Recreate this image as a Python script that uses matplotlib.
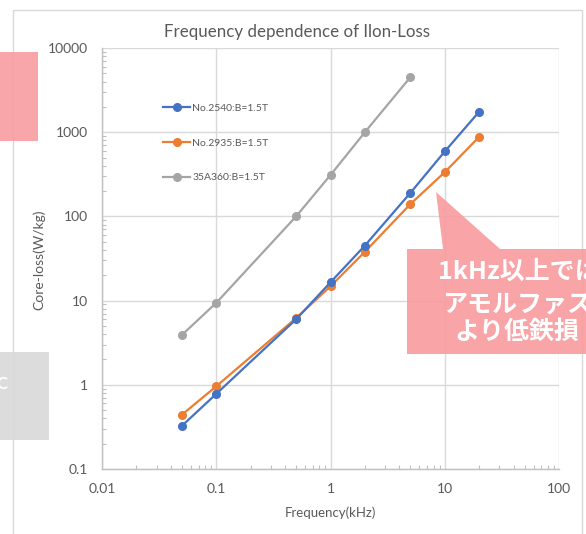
import matplotlib
matplotlib.use('Agg')
import matplotlib.pyplot as plt
import matplotlib.patches as patches
from matplotlib.ticker import LogLocator, FuncFormatter, NullFormatter

plt.rcParams['font.family'] = ['Lato', 'Noto Sans CJK JP', 'DejaVu Sans']

# data (kHz, W/kg)
freq = [0.05, 0.1, 0.5, 1, 2, 5, 10, 20]
loss_2540 = [0.325, 0.78, 6.0, 16.5, 45, 190, 590, 1750]
loss_2935 = [0.44, 0.96, 6.2, 14.8, 38, 140, 335, 880]
freq_35a = [0.05, 0.1, 0.5, 1, 2, 5]
loss_35a = [3.9, 9.4, 100, 310, 1000, 4500]

series_labels = ['No.2540:B=1.5T', 'No.2935:B=1.5T', '35A360:B=1.5T']
series_colors = ['#4472C4', '#ED7D31', '#A5A5A5']

W, H = 586, 534
text_gray = '#595959'
grid_gray = '#D9D9D9'


def px(x, y):
    # pixel coords (top-left origin) -> figure fraction
    return x / W, 1 - y / H


fig = plt.figure(figsize=(W / 100, H / 100), dpi=100)

# chart frame behind everything
fig.patches.append(patches.Rectangle(px(13, 545), (582 - 13) / W, (545 - 10) / H,
                                     transform=fig.transFigure, fill=False,
                                     edgecolor=grid_gray, linewidth=1.0, zorder=0))

l, b = px(102, 469)
r, t = px(559, 48)
ax = fig.add_axes([l, b, r - l, t - b])

ax.plot(freq, loss_2540, color=series_colors[0], marker='o', markersize=5.5,
        linewidth=1.6, label=series_labels[0], zorder=4)
ax.plot(freq, loss_2935, color=series_colors[1], marker='o', markersize=5.5,
        linewidth=1.6, label=series_labels[1], zorder=3)
ax.plot(freq_35a, loss_35a, color=series_colors[2], marker='o', markersize=5.5,
        linewidth=1.6, label=series_labels[2], zorder=3)

ax.set_xscale('log')
ax.set_yscale('log')
ax.set_xlim(0.01, 100)
ax.set_ylim(0.1, 10000)

fmt = FuncFormatter(lambda v, p: ('%g' % v))
ax.xaxis.set_major_formatter(fmt)
ax.yaxis.set_major_formatter(fmt)
ax.xaxis.set_minor_locator(LogLocator(base=10, subs=range(2, 10)))
ax.yaxis.set_minor_locator(LogLocator(base=10, subs=range(2, 10)))
ax.xaxis.set_minor_formatter(NullFormatter())
ax.yaxis.set_minor_formatter(NullFormatter())

ax.tick_params(which='major', length=0, labelsize=10, labelcolor=text_gray, pad=10)
ax.tick_params(which='minor', direction='in', length=3, width=0.8, color='#BFBFBF')

ax.grid(True, which='major', color=grid_gray, linewidth=1.0)
ax.set_axisbelow(True)
for side in ['top', 'right']:
    ax.spines[side].set_visible(False)
for side in ['left', 'bottom']:
    ax.spines[side].set_color('#BFBFBF')
    ax.spines[side].set_linewidth(1.0)

fig.text(297 / W, 1 - 32 / H, 'Frequency dependence of Ilon-Loss', fontsize=12.2,
         color=text_gray, ha='center', va='center')
ax.set_xlabel('Frequency(kHz)', fontsize=9.5, color=text_gray, labelpad=8)
fig.text(39 / W, 1 - 260 / H, 'Core-loss(W/kg)', fontsize=10, color=text_gray,
         rotation=90, ha='center', va='center')

ax.legend(loc='upper left', bbox_to_anchor=(0.1335, 0.868), frameon=False,
          fontsize=7.5, labelspacing=2.45, handlelength=2.6, handletextpad=0.2,
          borderpad=0, borderaxespad=0, labelcolor=text_gray)

# slide overlays around the chart
pink = '#F99A9E'
fig.patches.append(patches.Rectangle(px(0, 141), 38 / W, (141 - 52) / H,
                                     transform=fig.transFigure, facecolor=pink,
                                     edgecolor='none', alpha=0.88, zorder=5))
fig.patches.append(patches.Rectangle(px(0, 440), 49 / W, (440 - 352) / H,
                                     transform=fig.transFigure, facecolor='#D9D9D9',
                                     edgecolor='none', alpha=0.9, zorder=5))
fig.text(7 / W, 1 - 384 / H, 'C', color='white', fontsize=12, fontweight='bold',
         ha='right', va='center', zorder=6)

callout = [(407, 249), (443, 249), (436, 192), (500, 249), (600, 249),
           (600, 354), (407, 354)]
fig.patches.append(patches.Polygon([px(x, y) for x, y in callout], closed=True,
                                   transform=fig.transFigure, facecolor=pink,
                                   edgecolor='none', alpha=0.9, zorder=5))
callout_lines = [('1kHz以上では', 438, 272), ('アモルファス', 442, 305), ('より低鉄損', 454, 332)]
for txt, x, y in callout_lines:
    fig.text(x / W, 1 - y / H, txt, color='white', fontsize=18, fontweight='bold',
             ha='left', va='center', family=['Noto Sans CJK JP', 'DejaVu Sans'], zorder=6)

fig.savefig('out.png', dpi=100)
